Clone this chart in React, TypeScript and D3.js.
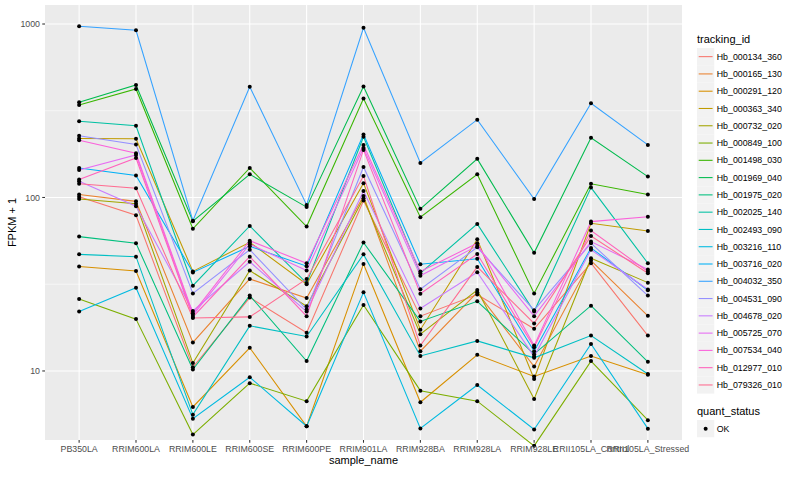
import * as d3 from 'd3';

const categories = [
  'PB350LA',
  'RRIM600LA',
  'RRIM600LE',
  'RRIM600SE',
  'RRIM600PE',
  'RRIM901LA',
  'RRIM928BA',
  'RRIM928LA',
  'RRIM928LE',
  'RRII105LA_Control',
  'RRII105LA_Stressed',
];

const trackingIds = [
  'Hb_000134_360',
  'Hb_000165_130',
  'Hb_000291_120',
  'Hb_000363_340',
  'Hb_000732_020',
  'Hb_000849_100',
  'Hb_001498_030',
  'Hb_001969_040',
  'Hb_001975_020',
  'Hb_002025_140',
  'Hb_002493_090',
  'Hb_003216_110',
  'Hb_003716_020',
  'Hb_004032_350',
  'Hb_004531_090',
  'Hb_004678_020',
  'Hb_005725_070',
  'Hb_007534_040',
  'Hb_012977_010',
  'Hb_079326_010',
];

// ggplot hue palette, 20 levels
const palette = [
  '#F8766D', '#EA8331', '#D89000', '#C09B00', '#A3A500',
  '#7CAE00', '#39B600', '#00BB4E', '#00BF7D', '#00C1A3',
  '#00BFC4', '#00BAE0', '#00B0F6', '#35A2FF', '#9590FF',
  '#C77CFF', '#E76BF3', '#FA62DB', '#FF62BC', '#FF6C91',
];

// FPKM + 1, one value per sample_name
const hb000134_360 = [101, 79, 10.5, 26.5, 16.6, 96, 20.7, 27.6, 17.5, 41.8, 16.0];
const hb000165_130 = [104, 95, 14.6, 33.9, 26.3, 102, 13.0, 28.4, 10.6, 43.3, 20.8];
const hb000291_120 = [40, 37.7, 6.2, 13.6, 4.8, 41.4, 6.6, 12.4, 9.3, 12.2, 9.5];
const hb000363_340 = [219, 218, 37.5, 55.2, 31.6, 121, 17.3, 57.4, 9.0, 71, 64.1];
const hb000732_020 = [98, 92, 11.1, 37.9, 23.6, 99, 16.3, 29.3, 6.9, 44.6, 32.3];
const hb000849_100 = [26, 19.9, 4.3, 8.5, 6.7, 24, 7.7, 6.7, 3.7, 11.4, 5.2];
const hb001498_030 = [341, 422, 66, 148, 68, 372, 77, 136, 28, 120, 104];
const hb001969_040 = [354, 445, 73, 136, 88, 436, 86, 167, 48, 221, 132];
const hb001975_020 = [59.5, 54.5, 10.2, 27.2, 11.4, 55, 19.3, 25.2, 12.5, 23.8, 11.3];
const hb002025_140 = [275, 259, 31, 68.5, 32.1, 224, 36.6, 70.4, 22, 114, 41.8];
const hb002493_090 = [47, 45.6, 5.6, 18.2, 15.8, 47, 12.2, 14.9, 11.9, 16, 9.6];
const hb003216_110 = [22, 30.2, 5.3, 9.2, 4.8, 28.4, 4.66, 8.3, 4.6, 14.3, 4.65];
const hb003716_020 = [148, 134, 37, 52.3, 40.2, 231, 41.2, 44.3, 13, 51.2, 29.2];
const hb004032_350 = [970, 920, 73.5, 435, 90.6, 950, 158, 281, 98, 349, 201];
const hb004531_090 = [227, 202, 28, 50, 22.6, 150, 29.6, 51.6, 22.4, 54.5, 27.2];
const hb004678_020 = [124, 89, 22.2, 42.6, 22, 109, 22.9, 37.1, 12.1, 50, 29.5];
const hb005725_070 = [144, 176, 21, 53.8, 37.9, 193, 35.4, 52.6, 20.7, 55.7, 38.5];
const hb007534_040 = [214, 180, 21.5, 56.4, 41.8, 201, 37.4, 54.5, 14, 72.6, 77.5];
const hb012977_010 = [127, 169, 20.5, 45.6, 20.7, 188, 27.9, 47.2, 13.7, 64.5, 37.4];
const hb079326_010 = [120, 113, 20.2, 20.5, 33.9, 133, 14.0, 39.8, 18.8, 60, 36.6];

const seriesValues = [
  hb000134_360, hb000165_130, hb000291_120, hb000363_340, hb000732_020,
  hb000849_100, hb001498_030, hb001969_040, hb001975_020, hb002025_140,
  hb002493_090, hb003216_110, hb003716_020, hb004032_350, hb004531_090,
  hb004678_020, hb005725_070, hb007534_040, hb012977_010, hb079326_010,
];

const yMajor = [10, 100, 1000];
const yMinor = [31.62, 316.2];
const yDomain: [number, number] = [4.0, 1287];

const FONT = '"Liberation Sans", Arial, Helvetica, sans-serif';

export default function App() {
  const width = 800;
  const height = 500;
  const panel = { left: 45, right: 682, top: 5, bottom: 440 };

  const x = d3
    .scalePoint<string>()
    .domain(categories)
    .range([panel.left, panel.right])
    .padding(0.6);
  const y = d3.scaleLog().domain(yDomain).range([panel.bottom, panel.top]);

  const line = d3
    .line<number>()
    .x((_, i) => x(categories[i]) as number)
    .y((d) => y(d));

  const key = 17.28;
  const legendX = 697;
  const legendTop = 48;

  return (
    <div style={{ position: 'absolute', left: 0, top: 0 }}>
      <svg width={width} height={height} style={{ display: 'block', background: '#fff' }}>
        <rect
          x={panel.left}
          y={panel.top}
          width={panel.right - panel.left}
          height={panel.bottom - panel.top}
          fill="#EBEBEB"
        />
        {yMinor.map((v) => (
          <line
            key={`mn${v}`}
            x1={panel.left}
            x2={panel.right}
            y1={y(v)}
            y2={y(v)}
            stroke="#fff"
            strokeWidth={0.55}
          />
        ))}
        {yMajor.map((v) => (
          <line
            key={`mj${v}`}
            x1={panel.left}
            x2={panel.right}
            y1={y(v)}
            y2={y(v)}
            stroke="#fff"
            strokeWidth={1.07}
          />
        ))}
        {categories.map((c) => (
          <line
            key={`vx${c}`}
            x1={x(c)}
            x2={x(c)}
            y1={panel.top}
            y2={panel.bottom}
            stroke="#fff"
            strokeWidth={1.07}
          />
        ))}

        {seriesValues.map((vals, i) => (
          <path
            key={trackingIds[i]}
            d={line(vals) ?? ''}
            fill="none"
            stroke={palette[i]}
            strokeWidth={1.07}
          />
        ))}
        {seriesValues.map((vals, i) =>
          vals.map((v, j) => (
            <circle key={`${i}-${j}`} cx={x(categories[j])} cy={y(v)} r={2} fill="#000" />
          )),
        )}

        {/* y axis */}
        {yMajor.map((v) => (
          <g key={`yt${v}`}>
            <line
              x1={panel.left - 2.75}
              x2={panel.left}
              y1={y(v)}
              y2={y(v)}
              stroke="#333333"
              strokeWidth={1.07}
            />
            <text
              x={panel.left - 5}
              y={y(v)}
              dy="0.35em"
              textAnchor="end"
              fontFamily={FONT}
              fontSize={8.8}
              fill="#4D4D4D"
            >
              {v}
            </text>
          </g>
        ))}
        {/* x axis */}
        {categories.map((c) => (
          <g key={`xt${c}`}>
            <line
              x1={x(c)}
              x2={x(c)}
              y1={panel.bottom}
              y2={panel.bottom + 2.75}
              stroke="#333333"
              strokeWidth={1.07}
            />
            <text
              x={x(c)}
              y={panel.bottom + 11.5}
              textAnchor="middle"
              fontFamily={FONT}
              fontSize={8.8}
              fill="#4D4D4D"
            >
              {c}
            </text>
          </g>
        ))}
        <text
          x={(panel.left + panel.right) / 2}
          y={464}
          textAnchor="middle"
          fontFamily={FONT}
          fontSize={11}
          fill="#000"
        >
          sample_name
        </text>
        <text
          transform={`translate(16,${(panel.top + panel.bottom) / 2}) rotate(-90)`}
          textAnchor="middle"
          fontFamily={FONT}
          fontSize={11}
          fill="#000"
        >
          FPKM + 1
        </text>

        {/* legend: tracking_id */}
        <text x={legendX} y={43} fontFamily={FONT} fontSize={11} fill="#000">
          tracking_id
        </text>
        {trackingIds.map((id, i) => {
          const ky = legendTop + i * key;
          return (
            <g key={`lg${id}`}>
              <rect x={legendX} y={ky} width={key} height={key} fill="#F2F2F2" />
              <line
                x1={legendX + 1.7}
                x2={legendX + key - 1.7}
                y1={ky + key / 2}
                y2={ky + key / 2}
                stroke={palette[i]}
                strokeWidth={1.07}
              />
              <text
                x={legendX + key + 2.5}
                y={ky + key / 2}
                dy="0.35em"
                fontFamily={FONT}
                fontSize={8.8}
                fill="#000"
              >
                {id}
              </text>
            </g>
          );
        })}

        {/* legend: quant_status */}
        <text x={legendX} y={415} fontFamily={FONT} fontSize={11} fill="#000">
          quant_status
        </text>
        <rect x={legendX} y={420} width={key} height={key} fill="#F2F2F2" />
        <circle cx={legendX + key / 2} cy={420 + key / 2} r={2} fill="#000" />
        <text
          x={legendX + key + 2.5}
          y={420 + key / 2}
          dy="0.35em"
          fontFamily={FONT}
          fontSize={8.8}
          fill="#000"
        >
          OK
        </text>
      </svg>
    </div>
  );
}
